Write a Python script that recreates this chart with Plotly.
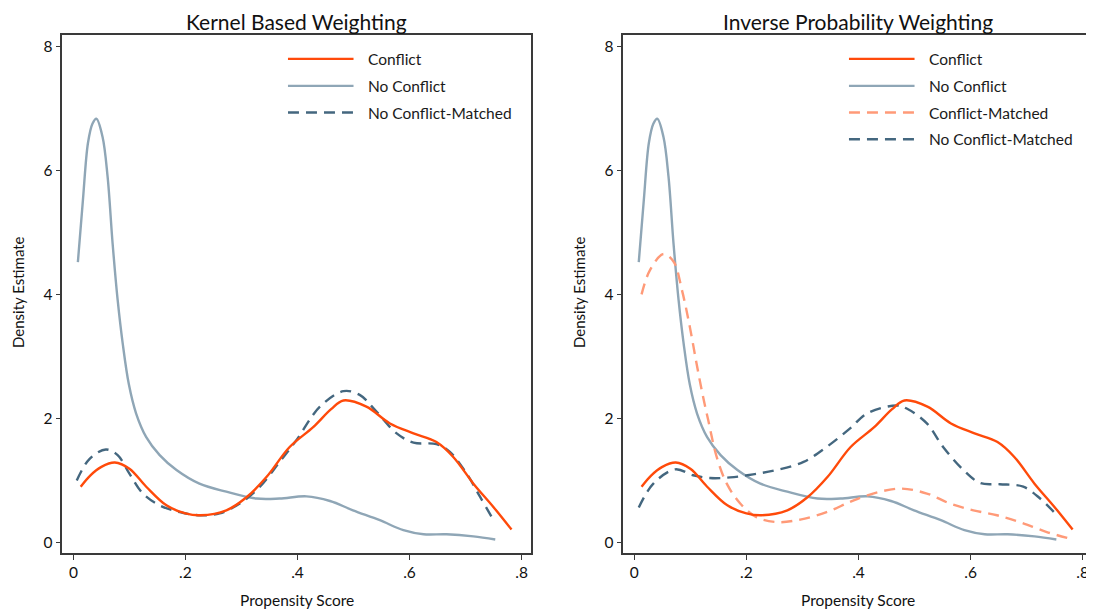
import plotly.graph_objects as go

# ---------------- data ----------------
conflict_x = [0.013, 0.030, 0.050, 0.074, 0.100, 0.130, 0.166, 0.200, 0.227, 0.273, 0.309, 0.345,
              0.386, 0.428, 0.460, 0.482, 0.523, 0.565, 0.607, 0.648, 0.678, 0.714, 0.750, 0.782]
conflict_y = [0.90, 1.08, 1.22, 1.29, 1.19, 0.90, 0.60, 0.47, 0.44, 0.52, 0.73, 1.06,
              1.54, 1.86, 2.15, 2.29, 2.19, 1.92, 1.76, 1.62, 1.38, 0.95, 0.57, 0.21]

noconf_x = [0.008, 0.017, 0.026, 0.034, 0.041, 0.052, 0.061, 0.070, 0.079, 0.088, 0.099, 0.112,
            0.130, 0.154, 0.184, 0.225, 0.273, 0.327, 0.368, 0.416, 0.458, 0.499, 0.547, 0.589,
            0.625, 0.666, 0.714, 0.753]
noconf_y = [4.52, 5.52, 6.44, 6.75, 6.83, 6.54, 5.90, 4.82, 3.91, 3.21, 2.55, 2.08,
            1.70, 1.41, 1.17, 0.95, 0.82, 0.71, 0.71, 0.745, 0.67, 0.52, 0.36, 0.20,
            0.134, 0.134, 0.10, 0.05]

# Kernel based weighting: matched no-conflict group
kbw_ncm_x = [0.006, 0.029, 0.058, 0.079, 0.100, 0.124, 0.154, 0.190, 0.225, 0.261, 0.297, 0.333,
             0.368, 0.398, 0.440, 0.482, 0.511, 0.541, 0.577, 0.607, 0.648, 0.672, 0.702, 0.726, 0.750]
kbw_ncm_y = [1.00, 1.35, 1.50, 1.41, 1.11, 0.79, 0.60, 0.49, 0.44, 0.47, 0.63, 0.90,
             1.30, 1.65, 2.19, 2.44, 2.38, 2.11, 1.76, 1.61, 1.585, 1.46, 1.11, 0.735, 0.36]

# Inverse probability weighting: matched groups
ipw_cm_x = [0.013, 0.028, 0.052, 0.070, 0.085, 0.099, 0.111, 0.122, 0.132, 0.147, 0.165, 0.189,
            0.218, 0.254, 0.296, 0.343, 0.385, 0.415, 0.474, 0.522, 0.563, 0.605, 0.647, 0.688,
            0.736, 0.783]
ipw_cm_y = [4.00, 4.39, 4.65, 4.53, 4.07, 3.48, 2.89, 2.38, 1.97, 1.38, 0.95, 0.63,
            0.41, 0.33, 0.37, 0.49, 0.655, 0.76, 0.87, 0.79, 0.63, 0.52, 0.44, 0.33,
            0.17, 0.05]

ipw_ncm_x = [0.008, 0.034, 0.073, 0.105, 0.135, 0.171, 0.212, 0.254, 0.302, 0.343, 0.385, 0.415,
             0.468, 0.486, 0.522, 0.551, 0.587, 0.617, 0.652, 0.694, 0.724, 0.751]
ipw_ncm_y = [0.565, 0.95, 1.18, 1.085, 1.04, 1.05, 1.10, 1.17, 1.30, 1.54, 1.84, 2.08,
             2.21, 2.16, 1.92, 1.54, 1.17, 0.96, 0.94, 0.90, 0.71, 0.47]

panel_titles = ["Kernel Based Weighting", "Inverse Probability Weighting"]
x_title = "Propensity Score"
y_title = "Density Estimate"
x_tickvals = [0, 0.2, 0.4, 0.6, 0.8]
x_ticktext = ["0", ".2", ".4", ".6", ".8"]
y_tickvals = [0, 2, 4, 6, 8]
y_ticktext = ["0", "2", "4", "6", "8"]
left_legend = ["Conflict", "No Conflict", "No Conflict-Matched"]
right_legend = ["Conflict", "No Conflict", "Conflict-Matched", "No Conflict-Matched"]

# ---------------- styles ----------------
C_CONF = "#ff4a0a"
C_NOCONF = "#8fa6b6"
C_NCM = "#44677f"
C_CM = "#ff9a78"
FONT = "Lato"
DASH = "11px,7px"
LW = 2.4

# the page body adds an 8px margin, so the figure is sized/positioned to compensate
W, H = 1086, 607
M_T, M_B = 27, 62
PH = H - M_T - M_B

fig = go.Figure()

def add_line(x, y, color, dash, xa, ya, name):
    fig.add_trace(go.Scatter(
        x=x, y=y, mode="lines", name=name, showlegend=False,
        line=dict(color=color, width=LW, dash=dash, shape="spline", smoothing=1.0),
        xaxis=xa, yaxis=ya, hoverinfo="skip"))

# left panel (draw underlying first)
add_line(noconf_x, noconf_y, C_NOCONF, "solid", "x", "y", "No Conflict")
add_line(kbw_ncm_x, kbw_ncm_y, C_NCM, DASH, "x", "y", "No Conflict-Matched")
add_line(conflict_x, conflict_y, C_CONF, "solid", "x", "y", "Conflict")

# right panel
add_line(noconf_x, noconf_y, C_NOCONF, "solid", "x2", "y2", "No Conflict")
add_line(ipw_cm_x, ipw_cm_y, C_CM, DASH, "x2", "y2", "Conflict-Matched")
add_line(ipw_ncm_x, ipw_ncm_y, C_NCM, DASH, "x2", "y2", "No Conflict-Matched")
add_line(conflict_x, conflict_y, C_CONF, "solid", "x2", "y2", "Conflict")

# ---------------- custom legends ----------------
style_map = {
    "Conflict": (C_CONF, "solid"),
    "No Conflict": (C_NOCONF, "solid"),
    "Conflict-Matched": (C_CM, DASH),
    "No Conflict-Matched": (C_NCM, DASH),
}
shapes = []
annotations = []
row_y = [7.795, 7.36, 6.93, 6.50]
for names, xr, yr in [(left_legend, "x", "y"), (right_legend, "x2", "y2")]:
    for i, nm in enumerate(names):
        col, dsh = style_map[nm]
        shapes.append(dict(type="line", xref=xr, yref=yr, x0=0.383, x1=0.500,
                           y0=row_y[i], y1=row_y[i],
                           line=dict(color=col, width=LW, dash=dsh)))
        annotations.append(dict(xref=xr, yref=yr, x=0.522, y=row_y[i], text=nm,
                                showarrow=False, xanchor="left", yanchor="middle",
                                font=dict(family=FONT, size=15.5, color="#1a1a1a")))

dom_left = [54.3 / W, 523.4 / W]
dom_right = [615.3 / W, 1084.0 / W]

def py(fig_y):
    return (H - M_B - fig_y) / PH

for dom, t in zip([dom_left, dom_right], panel_titles):
    cx = (dom[0] + dom[1]) / 2
    annotations.append(dict(xref="paper", yref="paper", x=cx, y=py(13), text=t,
                            showarrow=False, xanchor="center", yanchor="middle",
                            font=dict(family=FONT, size=21, color="#111111")))
    annotations.append(dict(xref="paper", yref="paper", x=cx, y=py(592), text=x_title,
                            showarrow=False, xanchor="center", yanchor="middle",
                            font=dict(family=FONT, size=15.5, color="#111111")))
    annotations.append(dict(xref="paper", yref="paper", x=(dom[0] * W - 44.3) / W, y=py(284),
                            text=y_title, textangle=-90,
                            showarrow=False, xanchor="center", yanchor="middle",
                            font=dict(family=FONT, size=15, color="#111111")))

axis_common = dict(showgrid=False, zeroline=False, showline=True, mirror=True,
                   linecolor="#3a3a3a", linewidth=1.5, ticks="outside", ticklen=5,
                   tickcolor="#3a3a3a", tickwidth=1.2, automargin=False,
                   tickfont=dict(family=FONT, size=15.5, color="#111111"))

fig.update_layout(
    width=W, height=H,
    paper_bgcolor="white", plot_bgcolor="white",
    margin=dict(l=0, r=0, t=M_T, b=M_B),
    showlegend=False,
    shapes=shapes, annotations=annotations,
    xaxis=dict(domain=dom_left, range=[-0.0198, 0.8175], tickvals=x_tickvals, ticktext=x_ticktext,
               anchor="y", **axis_common),
    yaxis=dict(domain=[0, 1], range=[-0.168, 8.18], tickvals=y_tickvals, ticktext=y_ticktext,
               anchor="x", **axis_common),
    xaxis2=dict(domain=dom_right, range=[-0.0196, 0.8166], tickvals=x_tickvals, ticktext=x_ticktext,
                anchor="y2", **axis_common),
    yaxis2=dict(domain=[0, 1], range=[-0.168, 8.18], tickvals=y_tickvals, ticktext=y_ticktext,
                anchor="x2", **axis_common),
)

fig.write_html("out.html")
